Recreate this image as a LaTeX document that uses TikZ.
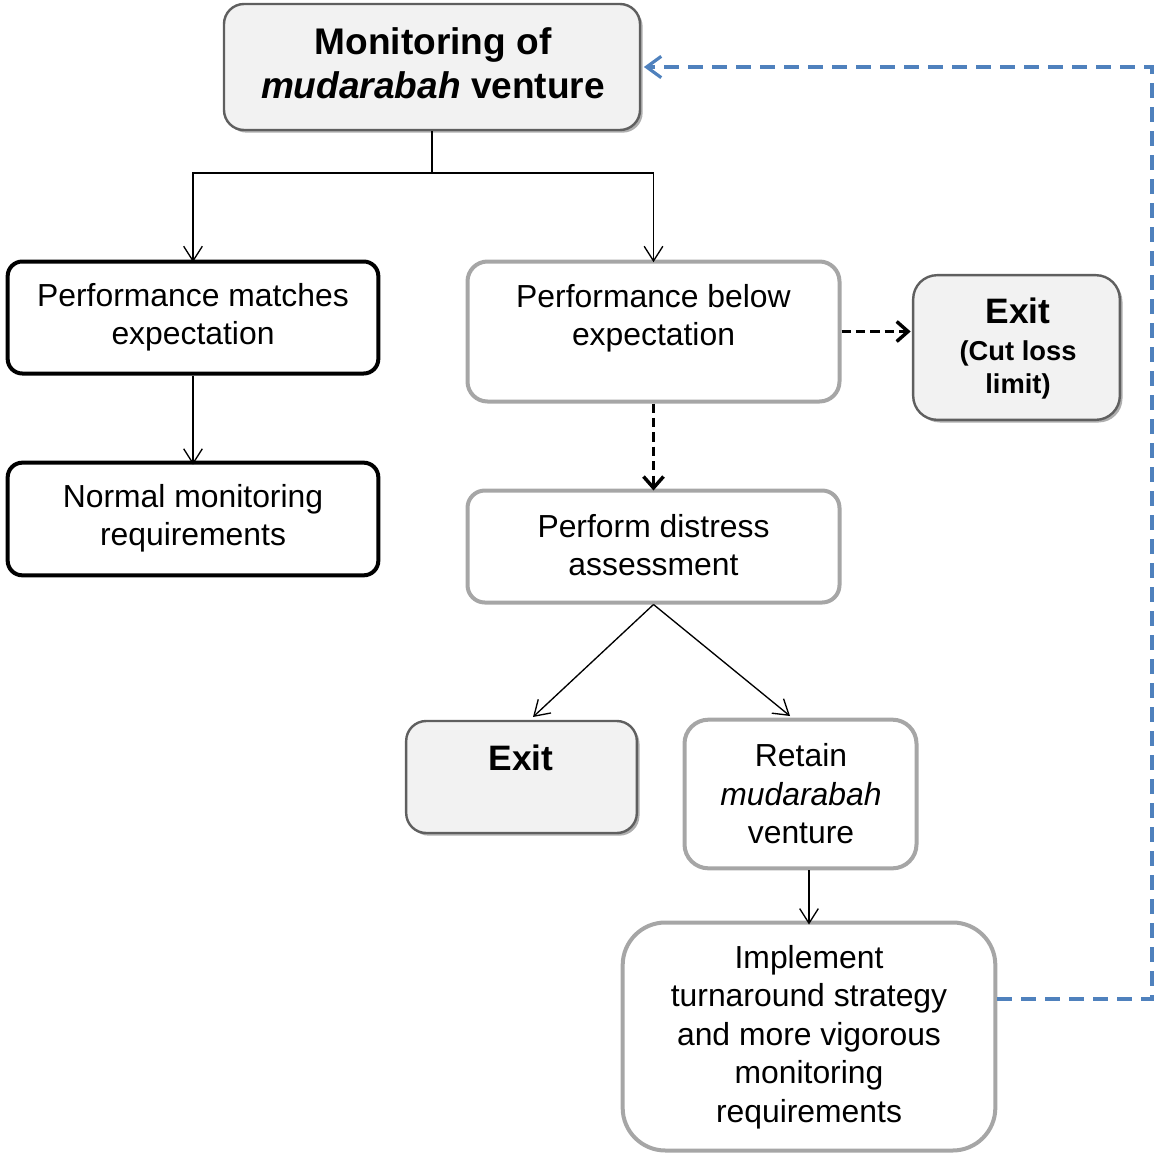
\documentclass[tikz,border=0pt]{standalone}
\usepackage{fontspec}
\setmainfont{Liberation Sans}
\usetikzlibrary{arrows.meta,shadows}
\definecolor{boxgray}{HTML}{A6A6A6}
\definecolor{darkedge}{HTML}{5F5F5F}
\definecolor{lightfill}{HTML}{F2F2F2}
\definecolor{blueline}{HTML}{4F81BD}
\tikzset{
  boxbase/.style={rectangle, inner sep=0pt},
  blackbox/.style={boxbase, draw=black, line width=3pt, rounded corners=11pt},
  graybox/.style={boxbase, draw=boxgray, line width=3pt, fill=white},
  shadebox/.style={boxbase, draw=darkedge, line width=1.8pt, fill=lightfill,
    drop shadow={shadow xshift=2pt, shadow yshift=-2pt, fill=black!45, opacity=0.7}},
  txt/.style={align=center, inner sep=0pt, font=\fontsize{23.9}{28.8}\selectfont},
  thinarrow/.style={draw=black, line width=1pt, -{Straight Barb[length=11pt,width=14pt,line width=1pt]}},
  dasharrow/.style={draw=black, line width=2.6pt, dash pattern=on 7pt off 3.8pt,
    -{Straight Barb[length=8.5pt,width=15pt,line width=2.6pt]}},
  bluedash/.style={draw=blueline, line width=2.4pt, dash pattern=on 11pt off 7pt,
    -{Straight Barb[length=11pt,width=16pt,line width=2.4pt]}}
}
\begin{document}
\begin{tikzpicture}[x=0.75pt,y=-0.75pt]
\useasboundingbox (0,0) rectangle (1155,1156);
% boxes
\node[shadebox, rounded corners=15pt, minimum width=312pt, minimum height=94.5pt] (top) at (432,67) {};
\node[blackbox, minimum width=278pt, minimum height=84pt] (pm) at (193,317.5) {};
\node[blackbox, minimum width=278pt, minimum height=84.5pt] (nm) at (193,519) {};
\node[graybox, rounded corners=15pt, minimum width=279pt, minimum height=105pt] (pb) at (653.5,331.5) {};
\node[shadebox, rounded corners=18pt, minimum width=155pt, minimum height=108.5pt] (ecl) at (1016.5,347.5) {};
\node[graybox, rounded corners=13pt, minimum width=279pt, minimum height=84pt] (pd) at (653.5,546.5) {};
\node[shadebox, rounded corners=15pt, minimum width=173pt, minimum height=84pt] (ex) at (521.5,777) {};
\node[graybox, rounded corners=18pt, minimum width=174pt, minimum height=111.5pt] (rt) at (800.5,794) {};
\node[graybox, rounded corners=32pt, minimum width=279.5pt, minimum height=171pt] (im) at (809,1036.5) {};
% texts
\node[txt, font=\fontsize{27.8}{33}\selectfont\bfseries] (topt) at (433,63) {Monitoring of\\\textit{mudarabah} venture};
\node[txt] (pmt) at (193,317) {Performance matches\\expectation};
\node[txt] (nmt) at (193,518) {Normal monitoring\\requirements};
\node[txt] (pbt) at (653.5,318) {Performance below\\expectation};
\node[txt, font=\fontsize{20.5}{25}\selectfont\bfseries] (eclt) at (1018,349) {{\fontsize{26.5}{28}\selectfont Exit}\\[2.5pt](Cut loss\\limit)};
\node[txt] (pdt) at (653.5,545) {Perform distress\\assessment};
\node[txt, font=\fontsize{26.5}{32}\selectfont\bfseries] (ext) at (521,758) {Exit};
\node[txt] (rtt) at (801,794) {Retain\\\textit{mudarabah}\\venture};
\node[txt] (imt) at (809,1037) {Implement\\turnaround strategy\\and more vigorous\\monitoring\\requirements};
% connectors
\coordinate (split) at (432,173);
\draw[line width=1pt] (top.south) -- (split);
\draw[thinarrow] (split) -| ([yshift=-2pt]pm.north);
\draw[thinarrow] (split) -| ([yshift=-2pt]pb.north);
\draw[thinarrow] (pm.south) -- ([yshift=-3pt]nm.north);
\draw[dasharrow] (pb.south) -- ([yshift=-1.5pt]pd.north);
\draw[dasharrow] (pb.east) -- ([xshift=-1pt]pb.east -| ecl.west);
\coordinate (exin) at (533,717);
\coordinate (rtin) at (790,716);
\draw[thinarrow] (pd.south) -- (exin);
\draw[thinarrow] (pd.south) -- (rtin);
\draw[thinarrow] (rt.south -| im.north) -- ([yshift=-3pt]im.north);
\coordinate (fb) at (1152,999);
\draw[bluedash] (fb -| im.east) -- (fb) |- ([xshift=2pt]top.east);
\end{tikzpicture}
\end{document}
